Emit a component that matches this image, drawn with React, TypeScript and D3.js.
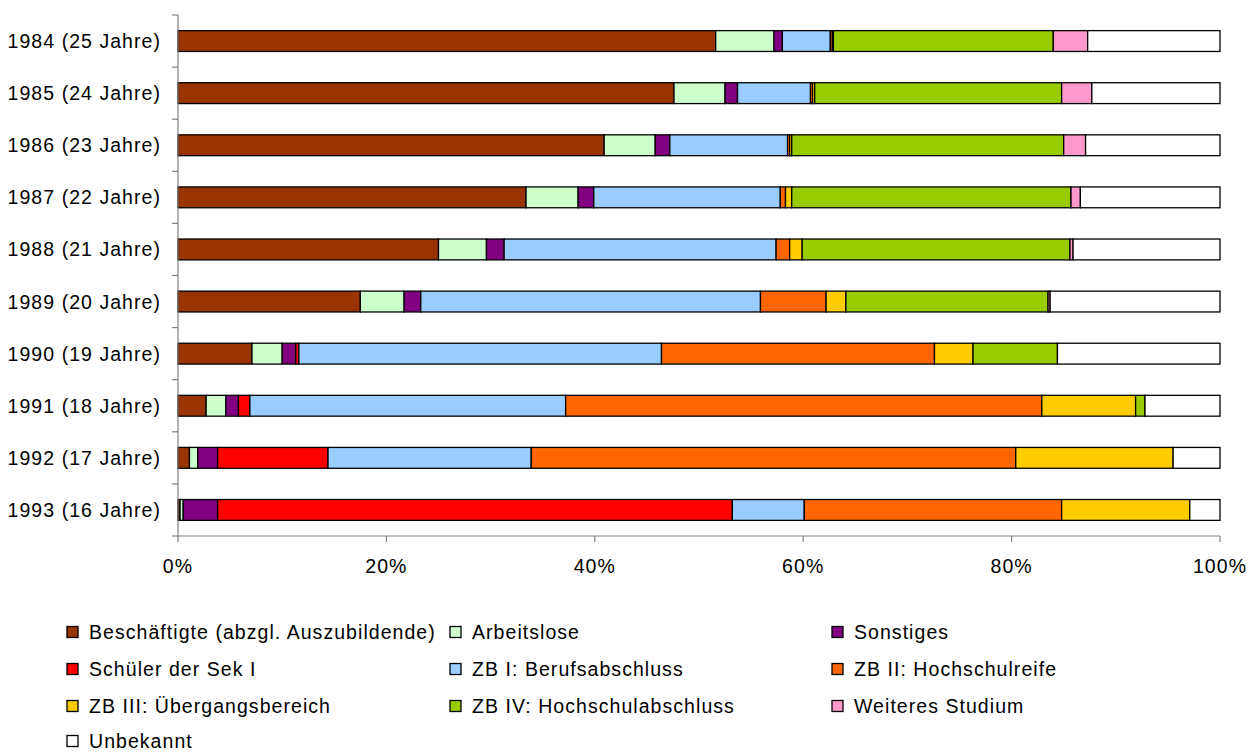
import React from "react";
import * as d3 from "d3";

const categories = [
  "1984 (25 Jahre)",
  "1985 (24 Jahre)",
  "1986 (23 Jahre)",
  "1987 (22 Jahre)",
  "1988 (21 Jahre)",
  "1989 (20 Jahre)",
  "1990 (19 Jahre)",
  "1991 (18 Jahre)",
  "1992 (17 Jahre)",
  "1993 (16 Jahre)",
];

const seriesNames = [
  "Beschäftigte (abzgl. Auszubildende)",
  "Arbeitslose",
  "Sonstiges",
  "Schüler der Sek I",
  "ZB I: Berufsabschluss",
  "ZB II: Hochschulreife",
  "ZB III: Übergangsbereich",
  "ZB IV: Hochschulabschluss",
  "Weiteres Studium",
  "Unbekannt",
];

const beschaeftigte = [51.6, 47.6, 40.9, 33.4, 25.0, 17.5, 7.1, 2.7, 1.1, 0.2];
const arbeitslose = [5.6, 4.9, 4.9, 5.0, 4.6, 4.2, 2.9, 1.9, 0.8, 0.3];
const sonstiges = [0.8, 1.2, 1.4, 1.5, 1.7, 1.6, 1.3, 1.2, 1.9, 3.3];
const schueler = [0, 0, 0, 0, 0, 0, 0.3, 1.1, 10.6, 49.4];
const zb1 = [4.6, 7.0, 11.3, 17.9, 26.1, 32.6, 34.8, 30.3, 19.5, 6.9];
const zb2 = [0.2, 0.2, 0.2, 0.5, 1.3, 6.3, 26.2, 45.7, 46.5, 24.7];
const zb3 = [0.1, 0.2, 0.2, 0.6, 1.2, 1.9, 3.7, 9.0, 15.1, 12.3];
const zb4 = [21.1, 23.7, 26.1, 26.8, 25.7, 19.4, 8.1, 0.9, 0, 0];
const weiteres = [3.3, 2.9, 2.1, 0.9, 0.3, 0.2, 0, 0, 0, 0];
const unbekannt = [12.7, 12.3, 12.9, 13.4, 14.1, 16.3, 15.6, 7.2, 4.5, 2.9];

const seriesValues = [
  beschaeftigte, arbeitslose, sonstiges, schueler, zb1, zb2, zb3, zb4, weiteres, unbekannt,
];

const colors = [
  "#993300", "#CCFFCC", "#800080", "#FF0000", "#99CCFF",
  "#FF6600", "#FFCC00", "#99CC00", "#FF99CC", "#FFFFFF",
];

const xTicks = [0, 20, 40, 60, 80, 100];

const W = 1248;
const H = 753;
const FONT = "'Liberation Sans', Arial, sans-serif";
const FS = 19.5;
const LS = 1.05;

export default function App() {
  const left = 178;
  const right = 1220;
  const top = 15;
  const bottom = 536;

  const x = d3.scaleLinear().domain([0, 100]).range([left, right]);
  const y = d3
    .scaleBand<string>()
    .domain(categories)
    .range([top, bottom])
    .paddingInner(0.6)
    .paddingOuter(0.3);

  const table = categories.map((c, i) => {
    const row: any = { cat: c };
    seriesNames.forEach((s, j) => (row[s] = seriesValues[j][i]));
    return row;
  });
  const stacked = d3.stack<any>().keys(seriesNames)(table);

  const step = (bottom - top) / categories.length;
  const boundaries = d3.range(categories.length + 1).map((i) => top + i * step);

  const legendCols = [67, 450, 832];
  const legendRows = [632, 669, 706, 741];

  return (
    <svg width={W} height={H} style={{ position: "absolute", left: 0, top: 0, background: "#fff" }}>
      <rect x={0} y={0} width={W} height={H} fill="#fff" />
      {stacked.map((layer, j) => (
        <g key={layer.key}>
          {layer.map((d, i) => {
            const w = x(d[1]) - x(d[0]);
            if (w <= 0) return null;
            return (
              <rect
                key={i}
                x={x(d[0])}
                y={y(categories[i])!}
                width={w}
                height={y.bandwidth()}
                fill={colors[j]}
                stroke="#000"
                strokeWidth={1.3}
              />
            );
          })}
        </g>
      ))}
      <line x1={left} x2={left} y1={top} y2={bottom} stroke="#808080" strokeWidth={1.2} />
      {boundaries.map((b, i) => (
        <line key={i} x1={left - 6} x2={left} y1={b} y2={b} stroke="#808080" strokeWidth={1.2} />
      ))}
      {categories.map((c) => (
        <text
          key={c}
          x={161}
          y={y(c)! + y.bandwidth() / 2}
          textAnchor="end"
          dominantBaseline="central"
          fontFamily={FONT}
          fontSize={FS}
          letterSpacing={LS}
          fill="#000"
        >
          {c}
        </text>
      ))}
      <line x1={left} x2={right} y1={bottom} y2={bottom} stroke="#808080" strokeWidth={1.2} />
      {xTicks.map((t) => (
        <g key={t}>
          <line x1={x(t)} x2={x(t)} y1={bottom} y2={bottom + 6} stroke="#808080" strokeWidth={1.2} />
          <text
            x={x(t)}
            y={566}
            textAnchor="middle"
            dominantBaseline="central"
            fontFamily={FONT}
            fontSize={FS}
            letterSpacing={LS}
            fill="#000"
          >
            {t + "%"}
          </text>
        </g>
      ))}
      {seriesNames.map((s, j) => {
        const col = j % 3;
        const row = Math.floor(j / 3);
        const lx = legendCols[col];
        const ly = legendRows[row];
        return (
          <g key={s}>
            <rect x={lx} y={ly - 5.5} width={11} height={11} fill={colors[j]} stroke="#000" strokeWidth={1.3} />
            <text
              x={lx + 22}
              y={ly}
              dominantBaseline="central"
              fontFamily={FONT}
              fontSize={FS}
              letterSpacing={LS}
              fill="#000"
            >
              {s}
            </text>
          </g>
        );
      })}
    </svg>
  );
}
